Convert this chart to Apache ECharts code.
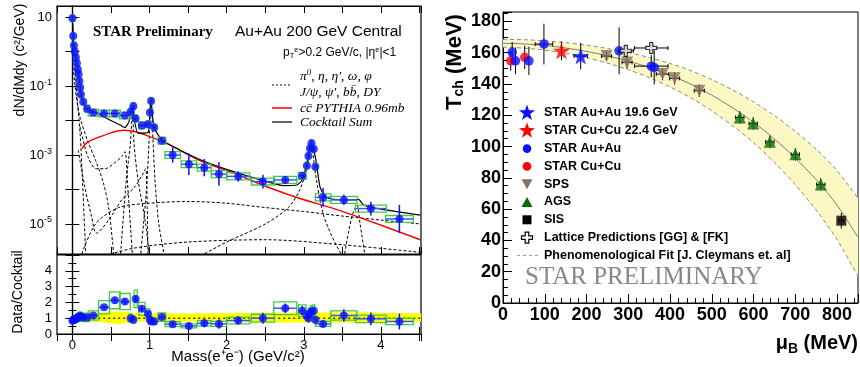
<!DOCTYPE html>
<html>
<head>
<meta charset="utf-8">
<script src="https://cdn.jsdelivr.net/npm/echarts@6/dist/echarts.min.js"></script>
<style>
  html, body { margin: 0; padding: 0; background: #fff; }
  #main { width: 860px; height: 367px; }
</style>
</head>
<body>
<div id="main"></div>
<script>
// ---- left panel: dielectron mass spectrum ----
const massPts  = [0, 0.01, 0.02, 0.03, 0.045, 0.058, 0.07, 0.08, 0.09, 0.1, 0.11, 0.14, 0.19, 0.27, 0.41, 0.55, 0.68, 0.755, 0.79, 0.82, 0.9, 0.98, 1.005, 1.02, 1.06, 1.16, 1.30, 1.51, 1.71, 1.90, 2.15, 2.47, 2.76, 2.98, 3.04, 3.06, 3.08, 3.10, 3.13, 3.15, 3.25, 3.52, 3.87, 4.24];
const yieldPts = [9.2, 2.8, 1.5, 1.0, 0.67, 0.46, 0.30, 0.22, 0.14, 0.091, 0.057, 0.035, 0.022, 0.017, 0.016, 0.016, 0.014, 0.018, 0.026, 0.0115, 0.0072, 0.0078, 0.017, 0.037, 0.0063, 0.0026, 0.001, 0.00054, 0.00043, 0.00028, 0.00024, 0.00017, 0.00019, 0.00025, 0.00049, 0.00093, 0.00155, 0.0022, 0.0015, 0.00046, 5.9e-5, 5.0e-5, 2.8e-5, 1.4e-5];
const binHalf  = [0.004, 0.004, 0.004, 0.004, 0.004, 0.004, 0.004, 0.004, 0.004, 0.004, 0.004, 0.01, 0.03, 0.065, 0.07, 0.07, 0.07, 0.02, 0.02, 0.02, 0.04, 0.02, 0.01, 0.01, 0.02, 0.05, 0.1, 0.1, 0.09, 0.1, 0.15, 0.15, 0.15, 0.05, 0.01, 0.01, 0.01, 0.01, 0.01, 0.01, 0.1, 0.17, 0.2, 0.18];
const statDex  = [0.01, 0.01, 0.01, 0.01, 0.01, 0.01, 0.01, 0.01, 0.01, 0.01, 0.01, 0.01, 0.02, 0.02, 0.03, 0.03, 0.03, 0.03, 0.03, 0.04, 0.04, 0.04, 0.03, 0.02, 0.04, 0.06, 0.22, 0.31, 0.25, 0.34, 0.15, 0.2, 0.08, 0.05, 0.03, 0.03, 0.03, 0.03, 0.03, 0.03, 0.27, 0.15, 0.2, 0.41];
const ratioPts = [0.85, 0.87, 0.9, 0.93, 0.96, 1.0, 1.05, 1.08, 1.11, 1.12, 1.1, 1.05, 1.05, 1.17, 1.69, 2.13, 2.05, 1.0, 0.9, 2.22, 1.6, 1.28, 0.9, 0.79, 0.79, 1.07, 0.62, 0.51, 0.68, 0.64, 0.85, 1.0, 1.63, 1.47, 1.15, 1.0, 1.32, 1.43, 1.47, 0.9, 0.64, 1.17, 0.96, 0.79];
const ratioErr = [0.05, 0.05, 0.05, 0.05, 0.05, 0.05, 0.05, 0.05, 0.05, 0.05, 0.05, 0.05, 0.05, 0.08, 0.12, 0.2, 0.2, 0.08, 0.08, 0.25, 0.2, 0.15, 0.1, 0.08, 0.08, 0.15, 0.15, 0.2, 0.25, 0.3, 0.25, 0.35, 0.3, 0.3, 0.1, 0.1, 0.1, 0.1, 0.1, 0.1, 0.2, 0.4, 0.4, 0.5];
const SYS_DEX = 0.1;     // green box half height, decades
const SYS_RATIO = 0.25;  // green box half height, fraction of ratio

const cocktailSum = [[0, 9.5], [0.01, 2.8], [0.02, 1.5], [0.03, 1.0], [0.05, 0.55], [0.07, 0.3], [0.09, 0.14], [0.11, 0.06], [0.14, 0.032], [0.19, 0.022], [0.27, 0.018], [0.36, 0.0145], [0.5, 0.01], [0.62, 0.0074], [0.68, 0.0062], [0.73, 0.009], [0.77, 0.02], [0.785, 0.026], [0.8, 0.012], [0.85, 0.0043], [0.98, 0.0045], [1.005, 0.02], [1.02, 0.042], [1.04, 0.012], [1.07, 0.0055], [1.16, 0.0028], [1.22, 0.0022], [1.66, 7.3e-4], [2.09, 3.3e-4], [2.52, 1.7e-4], [2.74, 1.3e-4], [2.91, 1.35e-4], [2.98, 1.9e-4], [3.04, 5.8e-4], [3.09, 2.4e-3], [3.15, 8.9e-4], [3.21, 1.2e-4], [3.28, 6.2e-5], [3.39, 5.2e-5], [3.65, 5.0e-5], [3.71, 5.2e-5], [3.78, 3.5e-5], [4.04, 2.6e-5], [4.51, 1.8e-5]];
const ccbar = [[0.12, 1.5e-3], [0.2, 2.4e-3], [0.36, 3.4e-3], [0.5, 4.4e-3], [0.66, 5.2e-3], [0.8, 4.8e-3], [0.92, 4.0e-3], [1.22, 2.2e-3], [1.66, 6.8e-4], [2.09, 3.0e-4], [2.52, 1.2e-4], [2.95, 5.5e-5], [3.39, 2.8e-5], [3.82, 1.3e-5], [4.51, 3.5e-6]];

const compPi0 = [[0, 9], [0.03, 0.5], [0.06, 0.05], [0.1, 0.004], [0.13, 2e-4], [0.16, 6e-6], [0.175, 1e-6]];
const compEta = [[0.01, 0.35], [0.05, 0.05], [0.1, 0.012], [0.2, 0.0025], [0.3, 7e-4], [0.4, 1.6e-4], [0.47, 3e-5], [0.52, 3e-6], [0.54, 1e-6]];
const compOmegaDalitz = [[0.1, 6.6e-3], [0.2, 9e-4], [0.31, 4e-4], [0.42, 4e-4], [0.55, 6e-4], [0.64, 9e-4], [0.68, 1.25e-3], [0.72, 1e-4], [0.76, 5e-6], [0.78, 1e-6]];
const compEtaPrime = [[0.075, 1.4e-3], [0.16, 1.2e-4], [0.25, 1.6e-5], [0.31, 5.4e-6], [0.47, 1.3e-5], [0.64, 5e-5], [0.81, 1.2e-4], [0.92, 3e-4], [0.95, 4e-4], [0.97, 3e-5], [0.98, 1e-6]];
const compOmega = [[0.62, 1e-6], [0.7, 2e-4], [0.75, 2e-3], [0.78, 0.018], [0.8, 2e-3], [0.85, 2e-4], [0.95, 1e-5], [1.0, 1e-6]];
const compPhi = [[0.88, 1e-6], [0.96, 1e-4], [1.0, 5e-3], [1.02, 0.035], [1.04, 5e-3], [1.07, 2e-4], [1.12, 1e-5], [1.2, 1e-6]];
const compBB = [[0.1, 1e-6], [0.3, 1e-5], [0.6, 3e-5], [1.0, 4e-5], [1.5, 4.5e-5], [2.0, 4e-5], [2.5, 3e-5], [3.0, 2.3e-5], [3.5, 1.7e-5], [4.0, 1.3e-5], [4.52, 1.0e-5]];
const compDY = [[0.3, 1e-6], [0.8, 2e-6], [1.5, 3e-6], [2.5, 3.5e-6], [3.5, 2.5e-6], [4.52, 1.5e-6]];
const compJpsi = [[1.6, 1e-6], [2.0, 3e-6], [2.5, 1e-5], [2.8, 3e-5], [2.95, 1e-4], [3.05, 5e-4], [3.1, 2e-3], [3.15, 3e-4], [3.25, 2e-5], [3.4, 3e-6], [3.52, 1e-6]];
const compPsi2 = [[3.52, 1e-6], [3.62, 1.5e-5], [3.69, 3.5e-5], [3.73, 1e-5], [3.8, 1e-6]];

const bandM  = [0.14, 0.3, 0.45, 0.6, 0.75, 0.85, 1.0, 4.52];
const bandLo = [0.85, 0.79, 0.7, 0.64, 0.72, 0.79, 0.79, 0.79];
const bandHi = [1.18, 1.3, 1.38, 1.43, 1.36, 1.3, 1.3, 1.3];
const unityLine = [[0.14, 1], [4.52, 1]];

// ---- right panel: freeze-out temperature vs mu_B, [mu, T, muErr, TErr] ----
const starAuAu196 = [[186, 157.8, 16, 8.5]];
const starCuCu224 = [[140, 161.2, 0, 6]];
const starAuAu = [[22, 160.2, 0, 6.6], [30, 154.8, 0, 8.5], [62, 154.8, 0, 9], [98, 165.5, 21, 13], [278, 161.2, 0, 15], [355, 151.4, 40, 7], [362, 150.6, 0, 11]];
const starCuCu = [[18.5, 154.8, 0, 6.4], [52, 157, 0, 7.5]];
const sps = [[248, 157.8, 12, 3], [297, 153.8, 12, 4], [382, 146.3, 15, 4], [411, 143.6, 12, 4], [470, 135.7, 12, 4]];
const ags = [[567, 118.6, 10, 4], [599, 114.8, 10, 4], [639, 103, 10, 4], [700, 95, 10, 4], [761, 75.8, 10, 4]];
const sis = [[810, 52.6, 5, 5]];
const lattice = [[294, 161.2, 18, 3], [355, 163, 40, 4]];
const fitMu   = [0, 50, 100, 150, 200, 250, 300, 350, 400, 450, 500, 550, 600, 650, 700, 750, 800, 850];
const fitT    = [166, 165.6, 164.6, 163, 160.8, 158, 154.6, 150.5, 145.6, 139.8, 132.8, 124.7, 115.5, 104.8, 92.6, 78.8, 62.5, 42];
const fitHalf = [2.5, 2.7, 3, 3.4, 4, 4.7, 5.5, 6.4, 7.5, 8.7, 10, 11.5, 13, 15, 17, 19.5, 22, 25];

const legendRight = ['STAR Au+Au 19.6 GeV', 'STAR Cu+Cu 22.4 GeV', 'STAR Au+Au', 'STAR Cu+Cu', 'SPS', 'AGS', 'SIS', 'Lattice Predictions [GG] & [FK]', 'Phenomenological Fit [J. Cleymans et. al]'];

const FONT = 'Liberation Sans';
const BLUE = '#0a10ff', RED = '#ff0000', BROWN = '#8a7162', GREEN = '#0b6a0b', BOX = '#3fcc3f';
const STAR = 'path://M50,0L61.8,33.8L97.6,34.5L69,56.2L79.4,90.5L50,70L20.6,90.5L31,56.2L2.4,34.5L38.2,33.8Z';
const CROSS = 'path://M36,0L64,0L64,36L100,36L100,64L64,64L64,100L36,100L36,64L0,64L0,36L36,36Z';
const INVTRI = 'path://M0,0L100,0L50,88Z';

let chart = echarts.init(document.getElementById('main'));

function errLog(params, api) {
  const m = api.value(0), y = api.value(1), xe = api.value(2), f = Math.pow(10, api.value(3));
  const l = api.coord([m - xe, y]), r = api.coord([m + xe, y]);
  const t = api.coord([m, y * f]), b = api.coord([m, y / f]);
  return {type: 'group', children: [
    {type: 'line', shape: {x1: l[0], y1: l[1], x2: r[0], y2: r[1]}, style: {stroke: '#4455ff', lineWidth: 1.5}},
    {type: 'line', shape: {x1: t[0], y1: t[1], x2: b[0], y2: b[1]}, style: {stroke: BLUE, lineWidth: 1.5}}
  ]};
}
function boxLog(params, api) {
  const m = api.value(0), y = api.value(1), xe = Math.max(api.value(2), 0.012), f = Math.pow(10, SYS_DEX);
  const a = api.coord([m - xe, y * f]), b = api.coord([m + xe, y / f]);
  return {type: 'rect', shape: {x: a[0], y: a[1], width: b[0] - a[0], height: b[1] - a[1]}, style: {fill: 'none', stroke: BOX, lineWidth: 1.3}};
}
function errLin(params, api) {
  const m = api.value(0), y = api.value(1), xe = api.value(2), ye = api.value(3);
  const l = api.coord([m - xe, y]), r = api.coord([m + xe, y]);
  const t = api.coord([m, y + ye]), b = api.coord([m, y - ye]);
  return {type: 'group', children: [
    {type: 'line', shape: {x1: l[0], y1: l[1], x2: r[0], y2: r[1]}, style: {stroke: '#4455ff', lineWidth: 1.5}},
    {type: 'line', shape: {x1: t[0], y1: t[1], x2: b[0], y2: b[1]}, style: {stroke: BLUE, lineWidth: 1.5}}
  ]};
}
function boxLin(params, api) {
  const m = api.value(0), y = api.value(1), xe = Math.max(api.value(2), 0.012);
  const a = api.coord([m - xe, y * (1 + SYS_RATIO)]), b = api.coord([m + xe, y * (1 - SYS_RATIO)]);
  return {type: 'rect', shape: {x: a[0], y: a[1], width: b[0] - a[0], height: b[1] - a[1]}, style: {fill: 'none', stroke: BOX, lineWidth: 1.3}};
}
function errRight(params, api) {
  const m = api.value(0), y = api.value(1), xe = api.value(2), ye = api.value(3);
  const kids = [];
  if (xe > 0) {
    const l = api.coord([m - xe, y]), r = api.coord([m + xe, y]);
    kids.push({type: 'line', shape: {x1: l[0], y1: l[1], x2: r[0], y2: r[1]}, style: {stroke: '#000', lineWidth: 1}});
    kids.push({type: 'line', shape: {x1: l[0], y1: l[1] - 2, x2: l[0], y2: l[1] + 2}, style: {stroke: '#000', lineWidth: 1}});
    kids.push({type: 'line', shape: {x1: r[0], y1: r[1] - 2, x2: r[0], y2: r[1] + 2}, style: {stroke: '#000', lineWidth: 1}});
  }
  const t = api.coord([m, y + ye]), b = api.coord([m, y - ye]);
  kids.push({type: 'line', shape: {x1: t[0], y1: t[1], x2: b[0], y2: b[1]}, style: {stroke: '#000', lineWidth: 1}});
  return {type: 'group', children: kids};
}
function ratioBand(params, api) {
  const pts = [];
  for (let i = 0; i < bandM.length; i++) pts.push(api.coord([bandM[i], bandHi[i]]));
  for (let i = bandM.length - 1; i >= 0; i--) pts.push(api.coord([bandM[i], bandLo[i]]));
  return {type: 'polygon', shape: {points: pts, smooth: 0.3}, style: {fill: '#ffff00'}};
}
function fitBand(params, api) {
  const pts = [];
  for (let i = 0; i < fitMu.length; i++) pts.push(api.coord([fitMu[i], fitT[i] + fitHalf[i]]));
  for (let i = fitMu.length - 1; i >= 0; i--) pts.push(api.coord([fitMu[i], fitT[i] - fitHalf[i]]));
  return {type: 'polygon', shape: {points: pts}, style: {fill: '#fbf8c4'}};
}

function logLabel(v) {
  const lg = Math.log10(v), e = Math.round(lg);
  if (Math.abs(lg - e) > 1e-6) return '';
  if (e === 1) return '10';
  if (e % 2 !== 0) return '10{sup|' + e + '}';
  return '';
}
function intLabel(v) {
  return Math.abs(v - Math.round(v)) < 1e-6 ? String(Math.round(v)) : '';
}
function starPoints(cx, cy, r) {
  const pts = [];
  for (let i = 0; i < 10; i++) {
    const a = -Math.PI / 2 + i * Math.PI / 5, rr = i % 2 ? r * 0.4 : r;
    pts.push([cx + rr * Math.cos(a), cy + rr * Math.sin(a)]);
  }
  return pts;
}

const tickStyle = {inside: true, length: 7, lineStyle: {color: '#000', width: 1}};
const lineStyleBlack = {lineStyle: {color: '#000', width: 1.2}};
const leftLabel = {fontFamily: FONT, fontSize: 13, color: '#000', margin: 5};

function massAxis(grid, pos, labels) {
  return {
    gridIndex: grid, type: 'value', min: -0.2, max: 4.52, splitNumber: 10, position: pos,
    axisLine: lineStyleBlack, axisTick: tickStyle, splitLine: {show: false},
    axisLabel: labels ? Object.assign({formatter: intLabel, showMinLabel: false, showMaxLabel: false}, leftLabel) : {show: false}
  };
}
function yieldAxis(pos, labels) {
  return {
    gridIndex: 0, type: 'log', logBase: 10, min: 1.35e-6, max: 20.9, splitNumber: 8, position: pos,
    axisLine: lineStyleBlack, axisTick: tickStyle, splitLine: {show: false},
    axisLabel: labels ? Object.assign({formatter: logLabel, showMinLabel: false, showMaxLabel: false,
      rich: {sup: {fontFamily: FONT, fontSize: 9, color: '#000', verticalAlign: 'bottom', padding: [0, 0, 8, 0]}}}, leftLabel) : {show: false}
  };
}
function ratioAxis(pos, labels) {
  return {
    gridIndex: 1, type: 'value', min: 0, max: 5, interval: 1, position: pos,
    axisLine: lineStyleBlack, axisTick: tickStyle, splitLine: {show: false},
    minorTick: {show: true, splitNumber: 2, length: 4, lineStyle: {color: '#000'}},
    axisLabel: labels ? Object.assign({showMaxLabel: false}, leftLabel) : {show: false}
  };
}

const dashStyle = {color: '#000', width: 1, type: [3, 2]};
const components = [compPi0, compEta, compOmegaDalitz, compEtaPrime, compOmega, compPhi, compBB, compDY, compJpsi, compPsi2];

const series = [];
components.forEach(c => series.push({
  type: 'line', xAxisIndex: 0, yAxisIndex: 0, data: c, symbol: 'none', smooth: 0.3,
  lineStyle: dashStyle, silent: true, z: 2
}));
series.push({type: 'line', xAxisIndex: 0, yAxisIndex: 0, data: ccbar, symbol: 'none', smooth: 0.3,
  lineStyle: {color: RED, width: 1.4}, z: 3});
series.push({type: 'line', xAxisIndex: 0, yAxisIndex: 0, data: cocktailSum, symbol: 'none', smooth: 0.2,
  lineStyle: {color: '#000', width: 1.2}, z: 4});
const topPts = massPts.map((m, i) => [m, yieldPts[i], binHalf[i], statDex[i]]);
series.push({type: 'custom', xAxisIndex: 0, yAxisIndex: 0, data: topPts, renderItem: boxLog, clip: true, z: 5, encode: {x: 0, y: 1}});
series.push({type: 'custom', xAxisIndex: 0, yAxisIndex: 0, data: topPts, renderItem: errLog, clip: true, z: 6, encode: {x: 0, y: 1}});
series.push({type: 'scatter', xAxisIndex: 0, yAxisIndex: 0, data: topPts.map(p => [p[0], p[1]]), symbol: 'circle', symbolSize: 8,
  itemStyle: {color: BLUE}, z: 7});

// ratio panel
series.push({type: 'custom', xAxisIndex: 2, yAxisIndex: 2, data: [[bandM[0], bandLo[0]]], renderItem: ratioBand, clip: true, z: 1, encode: {x: 0, y: 1}});
series.push({type: 'line', xAxisIndex: 2, yAxisIndex: 2, data: unityLine, symbol: 'none',
  lineStyle: {color: '#333', width: 1.5, type: [2, 3]}, z: 2});
const ratioData = massPts.map((m, i) => [m, ratioPts[i], binHalf[i], ratioErr[i]]);
series.push({type: 'custom', xAxisIndex: 2, yAxisIndex: 2, data: ratioData, renderItem: boxLin, clip: true, z: 5, encode: {x: 0, y: 1}});
series.push({type: 'custom', xAxisIndex: 2, yAxisIndex: 2, data: ratioData, renderItem: errLin, clip: true, z: 6, encode: {x: 0, y: 1}});
series.push({type: 'scatter', xAxisIndex: 2, yAxisIndex: 2, data: ratioData.map(p => [p[0], p[1]]), symbol: 'circle', symbolSize: 8,
  itemStyle: {color: BLUE}, z: 7});

// right panel
series.push({type: 'custom', xAxisIndex: 4, yAxisIndex: 4, data: [[fitMu[0], fitT[0]]], renderItem: fitBand, clip: true, z: 1, encode: {x: 0, y: 1}});
series.push({type: 'line', xAxisIndex: 4, yAxisIndex: 4, data: fitMu.map((m, i) => [m, fitT[i] + fitHalf[i]]), symbol: 'none', smooth: 0.3,
  lineStyle: {color: '#8a8a8a', width: 1, type: [4, 3]}, z: 2});
series.push({type: 'line', xAxisIndex: 4, yAxisIndex: 4, data: fitMu.map((m, i) => [m, fitT[i] - fitHalf[i]]), symbol: 'none', smooth: 0.3,
  lineStyle: {color: '#8a8a8a', width: 1, type: [4, 3]}, z: 2});
series.push({type: 'line', xAxisIndex: 4, yAxisIndex: 4, data: fitMu.map((m, i) => [m, fitT[i]]), symbol: 'none', smooth: 0.3,
  lineStyle: {color: '#7a7a7a', width: 1}, z: 2});
const rightGroups = [
  [sps, INVTRI, 12, BROWN], [ags, 'triangle', 12, GREEN], [sis, 'rect', 10, '#000'],
  [starCuCu, 'circle', 9.5, RED], [starAuAu, 'circle', 9.5, BLUE], [lattice, CROSS, 11, '#fff'],
  [starCuCu224, STAR, 17, RED], [starAuAu196, STAR, 17, BLUE]
];
rightGroups.forEach(g => {
  series.push({type: 'custom', xAxisIndex: 4, yAxisIndex: 4, data: g[0], renderItem: errRight, clip: true, z: 3, encode: {x: 0, y: 1}});
  series.push({type: 'scatter', xAxisIndex: 4, yAxisIndex: 4, data: g[0].map(p => [p[0], p[1]]), symbol: g[1], symbolSize: g[2],
    itemStyle: {color: g[3], borderColor: g[3] === '#fff' ? '#000' : g[3], borderWidth: g[3] === '#fff' ? 1.2 : 0}, z: 4});
});

// legends and captions drawn as graphics
const legIconX = 527, legTextX = 544, legY0 = 113, legDy = 17.8;
const graphics = [
  {type: 'text', x: 93, y: 32, style: {text: 'STAR Preliminary', fontFamily: 'Liberation Serif', fontWeight: 'bold', fontSize: 15, fill: '#000', verticalAlign: 'middle'}},
  {type: 'text', x: 235, y: 32, style: {text: 'Au+Au 200 GeV Central', fontFamily: FONT, fontSize: 15.5, fill: '#000', verticalAlign: 'middle'}},
  {type: 'text', x: 283, y: 53, style: {text: 'p{sub|T}{sup|e}>0.2 GeV/c, |η{sup|e}|<1', fontFamily: FONT, fontSize: 12, fill: '#000', verticalAlign: 'middle',
    rich: {sub: {fontFamily: FONT, fontSize: 7.5, padding: [6, 0, 0, 0]}, sup: {fontFamily: FONT, fontSize: 7.5, verticalAlign: 'bottom', padding: [0, 0, 6, 0]}}}},
  {type: 'line', shape: {x1: 272, y1: 85, x2: 292, y2: 85}, style: {stroke: '#000', lineWidth: 1, lineDash: [2, 2]}},
  {type: 'line', shape: {x1: 272, y1: 108, x2: 292, y2: 108}, style: {stroke: RED, lineWidth: 1.5}},
  {type: 'line', shape: {x1: 272, y1: 122, x2: 292, y2: 122}, style: {stroke: '#000', lineWidth: 1.2}},
  {type: 'text', x: 300, y: 76, style: {text: 'π{sup|0}, η, η′, ω, φ', fontFamily: 'Liberation Serif', fontStyle: 'italic', fontSize: 13.5, fill: '#000', verticalAlign: 'middle',
    rich: {sup: {fontFamily: 'Liberation Serif', fontStyle: 'italic', fontSize: 9, verticalAlign: 'bottom', padding: [0, 0, 7, 0]}}}},
  {type: 'text', x: 300, y: 92, style: {text: 'J/ψ, ψ′, bb̄, DY', fontFamily: 'Liberation Serif', fontStyle: 'italic', fontSize: 13.5, fill: '#000', verticalAlign: 'middle'}},
  {type: 'text', x: 300, y: 108, style: {text: 'cc̄ PYTHIA 0.96mb', fontFamily: 'Liberation Serif', fontStyle: 'italic', fontSize: 13.5, fill: '#000', verticalAlign: 'middle'}},
  {type: 'text', x: 300, y: 122, style: {text: 'Cocktail Sum', fontFamily: 'Liberation Serif', fontStyle: 'italic', fontSize: 13.5, fill: '#000', verticalAlign: 'middle'}},
  {type: 'text', x: 20, y: 60, rotation: Math.PI / 2, style: {text: 'dN/dMdy (c²/GeV)', fontFamily: FONT, fontSize: 14, fill: '#000', align: 'center', verticalAlign: 'middle'}},
  {type: 'text', x: 18, y: 292, rotation: Math.PI / 2, style: {text: 'Data/Cocktail', fontFamily: FONT, fontSize: 14, fill: '#000', align: 'center', verticalAlign: 'middle'}},
  {type: 'text', x: 238, y: 357, style: {text: 'Mass(e⁺e⁻) (GeV/c²)', fontFamily: FONT, fontSize: 15, fill: '#000', align: 'center', verticalAlign: 'middle'}},
  // right panel captions
  {type: 'text', x: 455, y: 62, rotation: Math.PI / 2, style: {text: 'T{sub|ch} (MeV)', fontFamily: FONT, fontWeight: 'bold', fontSize: 22, fill: '#000', align: 'center', verticalAlign: 'middle',
    rich: {sub: {fontFamily: FONT, fontWeight: 'bold', fontSize: 14, padding: [9, 0, 0, 0]}}}},
  {type: 'text', x: 858, y: 343, style: {text: 'μ{sub|B} (MeV)', fontFamily: FONT, fontWeight: 'bold', fontSize: 20, fill: '#000', align: 'right', verticalAlign: 'middle',
    rich: {sub: {fontFamily: FONT, fontWeight: 'bold', fontSize: 14, padding: [12, 0, 0, 0]}}}},
  {type: 'text', x: 525, y: 277, style: {text: 'STAR PRELIMINARY', fontFamily: 'Liberation Serif', fontSize: 25, fill: '#888', verticalAlign: 'middle'}}
];
const legIcons = [
  {type: 'polygon', shape: {points: starPoints(legIconX, legY0, 8.5)}, style: {fill: BLUE}},
  {type: 'polygon', shape: {points: starPoints(legIconX, legY0 + legDy, 8.5)}, style: {fill: RED}},
  {type: 'circle', shape: {cx: legIconX, cy: legY0 + 2 * legDy, r: 4.3}, style: {fill: BLUE}},
  {type: 'circle', shape: {cx: legIconX, cy: legY0 + 3 * legDy, r: 4.3}, style: {fill: RED}},
  {type: 'polygon', shape: {points: [[legIconX - 5.5, legY0 + 4 * legDy - 5], [legIconX + 5.5, legY0 + 4 * legDy - 5], [legIconX, legY0 + 4 * legDy + 5]]}, style: {fill: BROWN}},
  {type: 'polygon', shape: {points: [[legIconX - 5.5, legY0 + 5 * legDy + 5], [legIconX + 5.5, legY0 + 5 * legDy + 5], [legIconX, legY0 + 5 * legDy - 5]]}, style: {fill: GREEN}},
  {type: 'rect', shape: {x: legIconX - 4.5, y: legY0 + 6 * legDy - 4.5, width: 9, height: 9}, style: {fill: '#000'}},
  {type: 'polygon', shape: {points: [[-1.8, -5.5], [1.8, -5.5], [1.8, -1.8], [5.5, -1.8], [5.5, 1.8], [1.8, 1.8], [1.8, 5.5], [-1.8, 5.5], [-1.8, 1.8], [-5.5, 1.8], [-5.5, -1.8], [-1.8, -1.8]].map(p => [legIconX + p[0], legY0 + 7 * legDy + p[1]])},
    style: {fill: '#fff', stroke: '#000', lineWidth: 1.2}},
  {type: 'line', shape: {x1: 517, y1: legY0 + 8 * legDy, x2: 540, y2: legY0 + 8 * legDy}, style: {stroke: '#999', lineWidth: 1, lineDash: [3, 3]}}
];
legIcons.forEach(g => graphics.push(g));
legendRight.forEach((t, i) => graphics.push({type: 'text', x: legTextX, y: legY0 + i * legDy,
  style: {text: t, fontFamily: FONT, fontWeight: 'bold', fontSize: 12.5, fill: '#000', verticalAlign: 'middle'}}));

const rightLabel = {fontFamily: FONT, fontWeight: 'bold', fontSize: 18, color: '#000'};

let option = {
  backgroundColor: '#fff',
  animation: false,
  grid: [
    {left: 57, top: 6, width: 364, height: 248, show: true, borderColor: '#000', borderWidth: 1.2, outerBoundsMode: 'none', containLabel: false},
    {left: 57, top: 255, width: 364, height: 79, show: true, borderColor: '#000', borderWidth: 1.2, outerBoundsMode: 'none', containLabel: false},
    {left: 503, top: 12, width: 355, height: 291, show: true, borderColor: '#000', borderWidth: 1, outerBoundsMode: 'none', containLabel: false}
  ],
  xAxis: [
    massAxis(0, 'bottom', false), massAxis(0, 'top', false),
    massAxis(1, 'bottom', true), massAxis(1, 'top', false),
    {gridIndex: 2, type: 'value', min: 0, max: 850, interval: 100, position: 'bottom',
      axisLine: {lineStyle: {color: '#000', width: 1}}, axisTick: {inside: true, length: 9, lineStyle: {color: '#000'}},
      minorTick: {show: true, splitNumber: 5, length: 5, lineStyle: {color: '#000'}}, splitLine: {show: false},
      axisLabel: Object.assign({margin: 3, showMaxLabel: false}, rightLabel)}
  ],
  yAxis: [
    yieldAxis('left', true), yieldAxis('right', false),
    ratioAxis('left', true), ratioAxis('right', false),
    {gridIndex: 2, type: 'value', min: 0, max: 186, interval: 20, position: 'left',
      axisLine: {lineStyle: {color: '#000', width: 1}}, axisTick: {inside: true, length: 9, lineStyle: {color: '#000'}},
      minorTick: {show: true, splitNumber: 4, length: 5, lineStyle: {color: '#000'}}, splitLine: {show: false},
      axisLabel: Object.assign({margin: 2, showMaxLabel: false}, rightLabel)}
  ],
  graphic: graphics,
  series: series
};

option && chart.setOption(option);
</script>
</body>
</html>
